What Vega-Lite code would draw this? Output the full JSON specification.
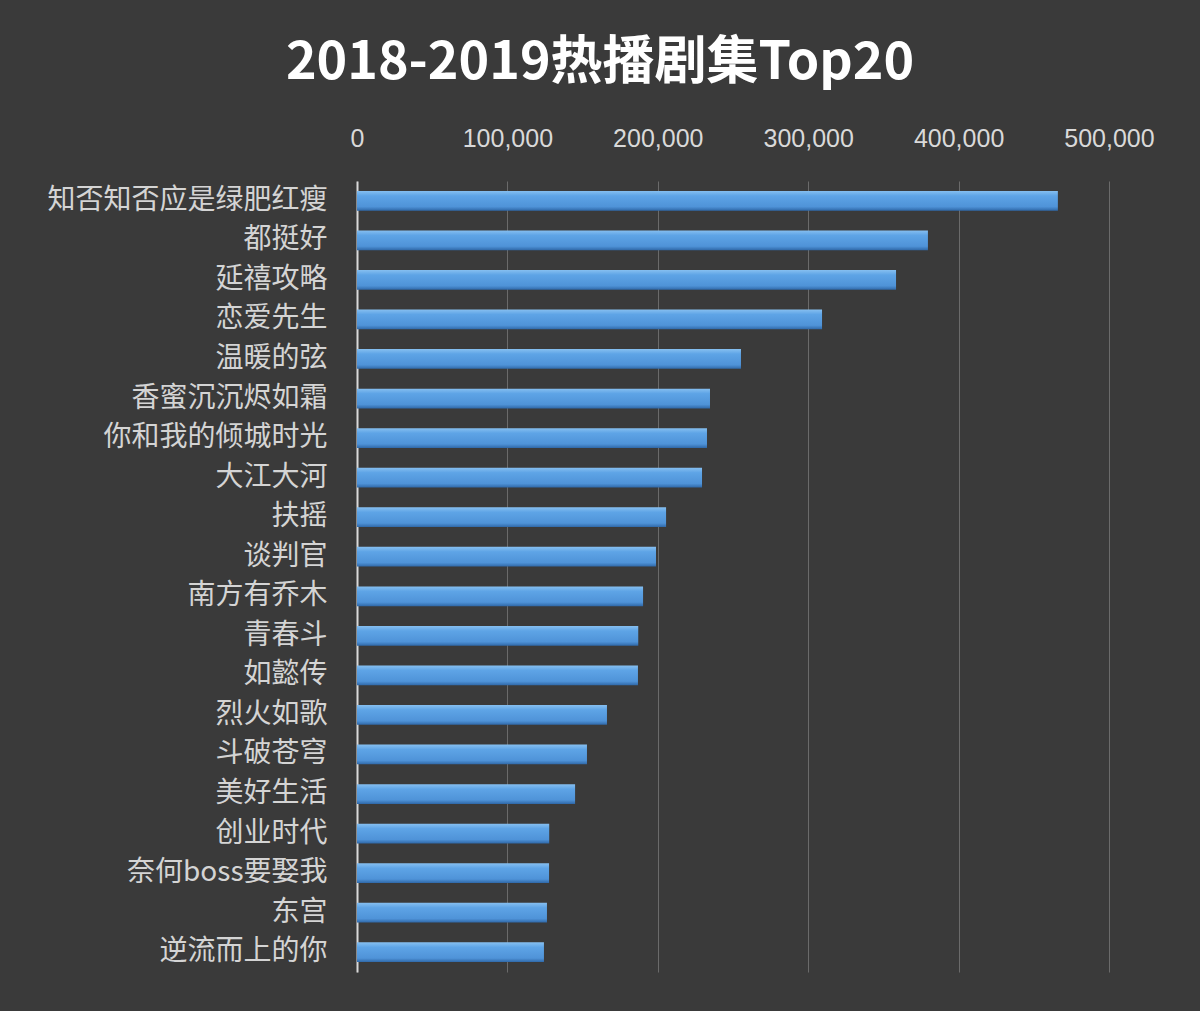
{
  "$schema": "https://vega.github.io/schema/vega-lite/v6.json",
  "width": 752,
  "height": 791,
  "autosize": {"type": "none"},
  "padding": {"left": 357, "top": 181, "right": 91, "bottom": 39},
  "background": "#3a3a3a",
  "title": {
    "text": "2018-2019热播剧集Top20",
    "font": "Noto Sans CJK SC",
    "fontSize": 52,
    "fontWeight": "bold",
    "color": "#ffffff",
    "anchor": "middle",
    "frame": "group",
    "dx": -133,
    "offset": 36
  },
  "data": {
    "values": [
      {"name": "知否知否应是绿肥红瘦", "value": 466000},
      {"name": "都挺好", "value": 379600},
      {"name": "延禧攻略", "value": 358400},
      {"name": "恋爱先生", "value": 309200},
      {"name": "温暖的弦", "value": 255300},
      {"name": "香蜜沉沉烬如霜", "value": 234700},
      {"name": "你和我的倾城时光", "value": 232700},
      {"name": "大江大河", "value": 229400},
      {"name": "扶摇", "value": 205500},
      {"name": "谈判官", "value": 198800},
      {"name": "南方有乔木", "value": 190200},
      {"name": "青春斗", "value": 187000},
      {"name": "如懿传", "value": 186800},
      {"name": "烈火如歌", "value": 166200},
      {"name": "斗破苍穹", "value": 152900},
      {"name": "美好生活", "value": 145000},
      {"name": "创业时代", "value": 127800},
      {"name": "奈何boss要娶我", "value": 127700},
      {"name": "东宫", "value": 126300},
      {"name": "逆流而上的你", "value": 124300}
    ]
  },
  "mark": {
    "type": "bar",
    "fill": {
      "gradient": "linear",
      "x1": 0, "y1": 0, "x2": 0, "y2": 1,
      "stops": [
        {"offset": 0, "color": "#86bff0"},
        {"offset": 0.25, "color": "#5ea4e6"},
        {"offset": 0.8, "color": "#4f93d8"},
        {"offset": 1, "color": "#2f68a8"}
      ]
    }
  },
  "encoding": {
    "y": {
      "field": "name",
      "type": "nominal",
      "sort": null,
      "scale": {"paddingInner": 0.5, "paddingOuter": 0.25},
      "axis": {
        "title": null,
        "ticks": false,
        "domain": true,
        "domainColor": "#d9d9d9",
        "domainWidth": 2,
        "labelFont": "Noto Sans CJK SC",
        "labelFontSize": 28,
        "labelColor": "#d4d4d4",
        "labelPadding": 30,
        "labelLimit": 400
      }
    },
    "x": {
      "field": "value",
      "type": "quantitative",
      "scale": {"domain": [0, 500000], "nice": false},
      "axis": {
        "orient": "top",
        "title": null,
        "values": [0, 100000, 200000, 300000, 400000, 500000],
        "format": ",d",
        "ticks": false,
        "domain": false,
        "grid": true,
        "gridColor": "#6a6a6a",
        "gridWidth": 1,
        "labelFont": "Liberation Sans",
        "labelFontSize": 25,
        "labelColor": "#d9d9d9",
        "labelPadding": 30,
        "labelFlush": false
      }
    }
  },
  "config": {"view": {"stroke": null}}
}
